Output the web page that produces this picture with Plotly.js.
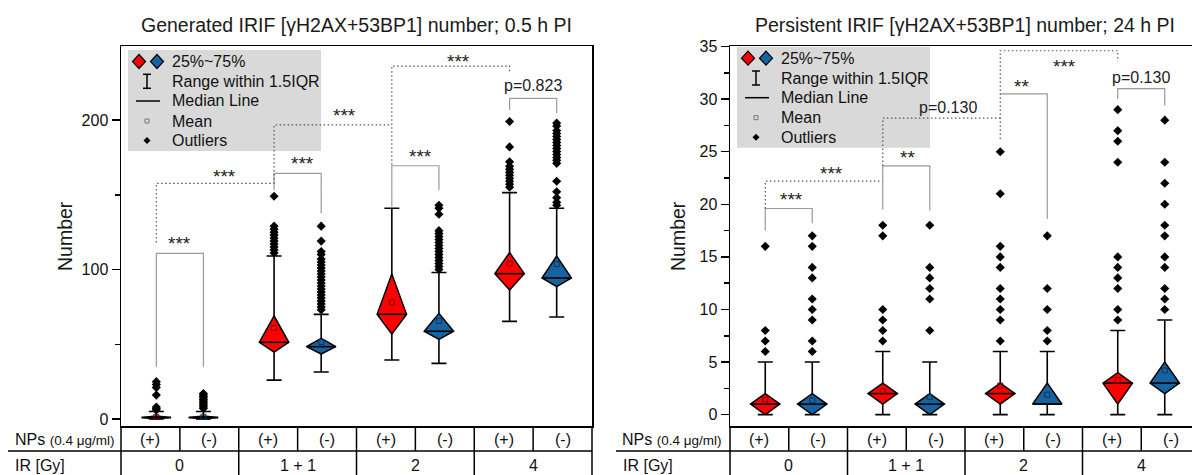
<!DOCTYPE html>
<html><head><meta charset="utf-8">
<script src="https://cdn.plot.ly/plotly-3.0.1.min.js"></script>
<style>html,body{margin:0;padding:0;overflow:hidden;background:#fff}#chart{width:1204px;height:475px}</style>
</head><body><div id="chart"></div><script>
// ---------------- data ----------------
const groups = ['0', '1 + 1', '2', '4'];
const npLabels = ['(+)', '(-)'];
const legendLabels = ['25%~75%', 'Range within 1.5IQR', 'Median Line', 'Mean', 'Outliers'];
const panelTitles = ['Generated IRIF [γH2AX+53BP1] number; 0.5 h PI', 'Persistent IRIF [γH2AX+53BP1] number; 24 h PI'];
const yTitle = 'Number';

// Generated IRIF, 0.5 h PI  (order: 0(+),0(-),1+1(+),1+1(-),2(+),2(-),4(+),4(-))
const genQ1     = [0, 0, 44.8, 43.5, 56.9, 53.3, 86.3, 88.5];
const genMedian = [1, 1, 51.3, 48.4, 70, 58.7, 97.2, 94.3];
const genQ3     = [2, 2, 69, 54, 97, 70.7, 111.3, 109];
const genMean   = [1.5, 1.6, 60.9, 51.5, 78, 65.6, 104, 103.7];
const genLow    = [0, 0, 26, 31.4, 39.5, 37.2, 65.3, 68.2];
const genHigh   = [5, 5, 109, 70, 141, 98, 151.4, 141];
const genOutliers = [
  [6, 7, 8, 16, 21, 23, 25],
  [7, 8, 9, 10, 11, 12, 13, 14, 15, 16, 17],
  [111, 113, 115, 117, 119, 121, 123, 125, 127, 129, 149],
  [73, 75, 77, 79, 81, 83, 85, 87, 89, 91, 93, 95, 97, 99, 101, 103, 105, 107, 110, 112, 119, 129],
  [],
  [100, 102, 104, 106, 108, 110, 112, 114, 116, 118, 120, 122, 124, 126, 137, 141, 143],
  [155, 157, 159, 161, 163, 165, 167, 169, 172, 182, 199],
  [143, 145, 148, 152, 159, 171, 173, 175, 177, 179, 181, 183, 185, 187, 189, 191, 193, 196, 198]
];

// Persistent IRIF, 24 h PI
const perQ1     = [0, 0, 1, 0, 1, 1, 1, 2];
const perMedian = [1, 1, 2, 1, 2, 1, 3, 3];
const perQ3     = [2, 2, 3, 2, 3, 3, 4, 5];
const perMean   = [1.43, 1.37, 2.2, 1.68, 2.76, 1.9, 3.3, 4.2];
const perLow    = [0, 0, 0, 0, 0, 0, 0, 0];
const perHigh   = [5, 5, 6, 5, 6, 6, 8, 9];
const perOutliers = [
  [6, 7, 8, 16],
  [6, 7, 9, 10, 11, 13, 14, 16, 17],
  [7, 8, 9, 10, 17, 18],
  [8, 11, 12, 13, 14, 18],
  [7, 9, 10, 11, 12, 14, 15, 16, 21, 25],
  [7, 8, 10, 12, 17],
  [9, 10, 12, 13, 14, 15, 24, 26, 27, 29],
  [10, 11, 12, 14, 15, 17, 18, 20, 22, 24, 28]
];

// significance brackets (box a to box b)
const genLabels = ['***', '***', '***', '***', '***', '***', 'p=0.823'];
const perLabels = ['***', '***', '**', 'p=0.130', '**', '***', 'p=0.130'];

// ---------------- layout helpers ----------------
const W = 1204, H = 475;
const FONT = 'Arial, "Liberation Sans", sans-serif';
const RED = '#FF0000', BLUE = '#1763A2';
const OFF = 0.2, HW = 0.125;
const px = x => x / W, py = y => 1 - y / H;
const PLOT_TOP = 46, PLOT_BOT = 426, ROW_MID = 451;
const panels = [
  {L: 121, R: 592, xa: 'x', ya: 'y', yr: [-4.68, 249.5], major: 100, minor: 50, tableStart: 8,
   q1: genQ1, med: genMedian, q3: genQ3, mean: genMean, lo: genLow, hi: genHigh, out: genOutliers,
   legTop: 50, legLeft: 128, titleX: 65, labels: genLabels,
   br: [
    {a:0,b:1,top:110.8,lb:35,rb:35,dash:false,lx:1.0,ly:120},
    {a:0,b:2,top:157.6,lb:118,rb:157.6,dash:true,lx:1.375,ly:165},
    {a:2,b:3,top:164.3,lb:153,rb:137.6,dash:false,lx:2.04,ly:173.6},
    {a:2,b:4,top:196.7,lb:157.6,rb:196.7,dash:true,lx:2.40,ly:206},
    {a:4,b:5,top:169.4,lb:142,rb:153,dash:false,lx:3.04,ly:178},
    {a:4,b:6,top:236,lb:170,rb:232,dash:true,lx:3.37,ly:242},
    {a:6,b:7,top:214.5,lb:206.7,rb:204.5,dash:false,lx:4.0,ly:223.4}
   ]},
  {L: 730, R: 1200, xa: 'x2', ya: 'y2', yr: [-1.08, 35.05], major: 5, minor: 2.5, tableStart: 616,
   q1: perQ1, med: perMedian, q3: perQ3, mean: perMean, lo: perLow, hi: perHigh, out: perOutliers,
   legTop: 46.7, legLeft: 737, titleX: 678, labels: perLabels,
   br: [
    {a:0,b:1,top:19.6,lb:17.5,rb:18.2,dash:false,lx:1.02,ly:20.8},
    {a:0,b:2,top:22.2,lb:19.6,rb:22.2,dash:true,lx:1.36,ly:23.3},
    {a:2,b:3,top:23.65,lb:19.5,rb:19.4,dash:false,lx:2.01,ly:24.8},
    {a:2,b:4,top:28.2,lb:23.65,rb:28.2,dash:true,lx:2.355,ly:29.2},
    {a:4,b:5,top:30.5,lb:30.5,rb:18.6,dash:false,lx:2.985,ly:31.6},
    {a:4,b:6,top:34.6,lb:26.2,rb:33.6,dash:true,lx:3.35,ly:33.5},
    {a:6,b:7,top:31,lb:30,rb:29.4,dash:false,lx:4.0,ly:32.1}
   ]}
];

function boxX(i) { return Math.floor(i / 2) + 1 + (i % 2 ? OFF : -OFF); }

const traces = [], shapes = [], annotations = [];
const layout = {
  width: W, height: H, margin: {l: 0, r: 0, t: 0, b: 0},
  paper_bgcolor: '#fff', plot_bgcolor: 'rgba(0,0,0,0)', showlegend: false,
  font: {family: FONT, color: '#000', size: 16}
};

panels.forEach((p, pi) => {
  const xs = p.med.map((_, i) => boxX(i));
  const base = {xaxis: p.xa, yaxis: p.ya, hoverinfo: 'skip', showlegend: false, cliponaxis: false};
  // whiskers
  traces.push(Object.assign({type: 'scatter', mode: 'markers', x: xs, y: p.med,
    marker: {size: 1, opacity: 0},
    error_y: {type: 'data', symmetric: false, array: p.hi.map((h, i) => h - p.med[i]),
              arrayminus: p.med.map((m, i) => m - p.lo[i]), color: '#000', thickness: 1.6, width: 7.5}}, base));
  // diamonds
  [0, 1].forEach(c => {
    const X = [], Y = [], MX = [], MY = [];
    for (let i = c; i < p.med.length; i += 2) {
      const x = xs[i];
      X.push(x, x + HW, x, x - HW, x, null);
      Y.push(p.q1[i], p.med[i], p.q3[i], p.med[i], p.q1[i], null);
      MX.push(x - HW, x + HW, null); MY.push(p.med[i], p.med[i], null);
    }
    traces.push(Object.assign({type: 'scatter', mode: 'lines', x: X, y: Y, fill: 'toself',
      fillcolor: c ? BLUE : RED, line: {color: '#000', width: 1.5}}, base));
    traces.push(Object.assign({type: 'scatter', mode: 'lines', x: MX, y: MY,
      line: {color: '#000', width: 1.6}}, base));
    const mx = [], my = [];
    for (let i = c; i < p.med.length; i += 2) { mx.push(xs[i]); my.push(p.mean[i]); }
    traces.push(Object.assign({type: 'scatter', mode: 'markers', x: mx, y: my,
      marker: {symbol: 'square-open', size: 5, line: {width: 1}, color: c ? '#0b3556' : '#800000'}}, base));
  });
  // outliers
  const ox = [], oy = [];
  p.out.forEach((arr, i) => arr.forEach(v => { ox.push(xs[i]); oy.push(v); }));
  traces.push(Object.assign({type: 'scatter', mode: 'markers', x: ox, y: oy,
    marker: {symbol: 'diamond', size: 7, color: '#000'}}, base));
  // brackets
  p.br.forEach((b, k) => {
    const xa = xs[b.a], xb = xs[b.b];
    traces.push(Object.assign({type: 'scatter', mode: 'lines', x: [xa, xa, xb, xb], y: [b.lb, b.top, b.top, b.rb],
      line: b.dash ? {color: '#555', width: 1.2, dash: '1.5px,2.5px'} : {color: '#9a9a9a', width: 1.2}}, base));
    const lab = p.labels[k];
    const star = lab.startsWith('*');
    annotations.push({xref: p.xa, yref: p.ya, x: b.lx, y: b.ly, text: lab, showarrow: false,
      xanchor: 'center', yanchor: 'middle', yshift: star ? -4 : 0,
      font: {family: FONT, size: star ? 19 : 16, color: '#222'}});
  });

  // axes
  const xd = [px(p.L), px(p.R)], yd = [py(PLOT_BOT), py(PLOT_TOP)];
  const xkey = pi ? 'xaxis2' : 'xaxis', ykey = pi ? 'yaxis2' : 'yaxis';
  layout[xkey] = {domain: xd, range: [0.5, 4.5], anchor: p.ya, showgrid: false, zeroline: false,
    showticklabels: false, ticks: '', showline: true, mirror: true, linecolor: '#000', linewidth: 1.5, fixedrange: true};
  layout[ykey] = {domain: yd, range: p.yr, anchor: p.xa, showgrid: false, zeroline: false,
    showline: true, mirror: true, linecolor: '#000', linewidth: 1.5, ticks: 'outside', ticklen: 8, tickwidth: 1.5,
    tickcolor: '#000', tick0: 0, dtick: p.major, tickfont: {family: FONT, size: 16, color: '#111'},
    minor: {ticks: 'outside', ticklen: 5, tickwidth: 1.5, tickcolor: '#000', dtick: p.minor, tick0: 0, showgrid: false},
    fixedrange: true};

  // title + y title
  annotations.push({xref: 'paper', yref: 'paper', x: px((p.L + p.R) / 2), y: py(25), text: panelTitles[pi],
    showarrow: false, xanchor: 'center', yanchor: 'middle', font: {family: FONT, size: 19.5, color: '#1a1a1a'}});
  annotations.push({xref: 'paper', yref: 'paper', x: px(p.titleX), y: py(236), text: yTitle, textangle: -90,
    showarrow: false, xanchor: 'center', yanchor: 'middle', font: {family: FONT, size: 19.5, color: '#1a1a1a'}});

  // legend
  const bx = p.legLeft, by = p.legTop;
  shapes.push({type: 'rect', xref: 'paper', yref: 'paper', x0: px(bx), x1: px(bx + 193), y0: py(by + 101), y1: py(by),
    fillcolor: '#D9D9D9', line: {width: 0}, layer: 'below'});
  const rows = [11.5, 31.3, 51, 71, 90.5].map(o => by + o);
  const dpath = (cx, cy, hw, hh) => `M${px(cx)},${py(cy - hh)} L${px(cx + hw)},${py(cy)} L${px(cx)},${py(cy + hh)} L${px(cx - hw)},${py(cy)} Z`;
  shapes.push({type: 'path', xref: 'paper', yref: 'paper', path: dpath(bx + 11, rows[0], 6.5, 7), fillcolor: RED, line: {color: '#000', width: 1.2}});
  shapes.push({type: 'path', xref: 'paper', yref: 'paper', path: dpath(bx + 29, rows[0], 6.5, 7), fillcolor: BLUE, line: {color: '#000', width: 1.2}});
  const ln = (x0, y0, x1, y1, w) => shapes.push({type: 'line', xref: 'paper', yref: 'paper', x0: px(x0), y0: py(y0), x1: px(x1), y1: py(y1), line: {color: '#000', width: w || 1.5}});
  ln(bx + 19, rows[1] - 7, bx + 19, rows[1] + 7);
  ln(bx + 15, rows[1] - 7, bx + 23, rows[1] - 7);
  ln(bx + 15, rows[1] + 7, bx + 23, rows[1] + 7);
  ln(bx + 8, rows[2], bx + 32, rows[2]);
  shapes.push({type: 'rect', xref: 'paper', yref: 'paper', x0: px(bx + 17), x1: px(bx + 21), y0: py(rows[3] + 2), y1: py(rows[3] - 2),
    line: {color: '#777', width: 1}, fillcolor: 'rgba(0,0,0,0)'});
  shapes.push({type: 'path', xref: 'paper', yref: 'paper', path: dpath(bx + 19, rows[4], 3.5, 3.5), fillcolor: '#000', line: {width: 0}});
  legendLabels.forEach((t, k) => annotations.push({xref: 'paper', yref: 'paper', x: px(bx + 42), y: py(rows[k]), text: t,
    showarrow: false, xanchor: 'left', yanchor: 'middle', font: {family: FONT, size: 16, color: '#111'}}));

  // table under the plot
  const gw = (p.R - p.L) / 4;
  ln(p.tableStart, ROW_MID, p.R, ROW_MID);
  for (let k = 0; k <= 4; k++) ln(p.L + k * gw, PLOT_BOT, p.L + k * gw, H + 2);
  for (let k = 0; k < 4; k++) ln(p.L + (k + 0.5) * gw, PLOT_BOT, p.L + (k + 0.5) * gw, ROW_MID);
  groups.forEach((g, k) => {
    npLabels.forEach((n, j) => annotations.push({xref: p.xa, yref: 'paper', x: k + 1 + (j ? 0.25 : -0.25), y: py(439),
      text: n, showarrow: false, xanchor: 'center', yanchor: 'middle', font: {family: FONT, size: 16, color: '#111'}}));
    annotations.push({xref: p.xa, yref: 'paper', x: k + 1, y: py(465), text: g, showarrow: false,
      xanchor: 'center', yanchor: 'middle', font: {family: FONT, size: 16, color: '#111'}});
  });
  annotations.push({xref: 'paper', yref: 'paper', x: px(p.tableStart + 4.5), y: py(439),
    text: 'NPs <span style="font-size:13.5px">(0.4 μg/ml)</span>', showarrow: false, xanchor: 'left', yanchor: 'middle',
    font: {family: FONT, size: 16, color: '#111'}});
  annotations.push({xref: 'paper', yref: 'paper', x: px(p.tableStart + 5), y: py(465), text: 'IR [Gy]', showarrow: false,
    xanchor: 'left', yanchor: 'middle', font: {family: FONT, size: 16, color: '#111'}});
});

layout.shapes = shapes;
layout.annotations = annotations;
Plotly.newPlot('chart', traces, layout, {staticPlot: true, displayModeBar: false});
</script></body></html>
